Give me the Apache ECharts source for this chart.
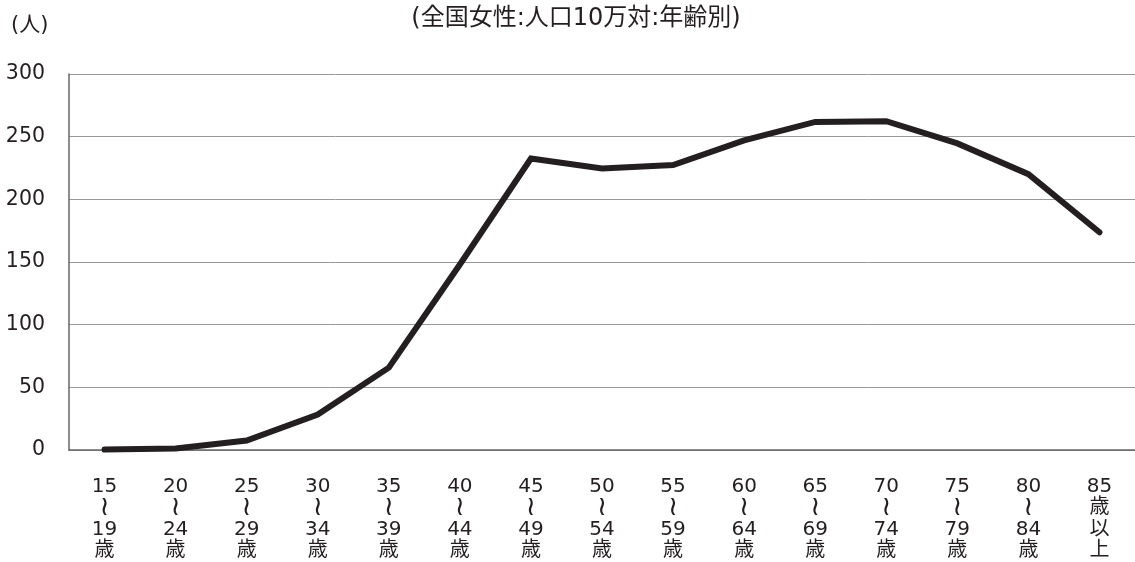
<!DOCTYPE html>
<html><head><meta charset="utf-8">
<script src="https://cdn.jsdelivr.net/npm/echarts@6/dist/echarts.min.js"></script>
<style>html,body{margin:0;padding:0;background:#fff}#c{width:1135px;height:562px}</style>
</head><body><div id="c"></div>
<script>
const categories = ['15\n≀\n19\n歳','20\n≀\n24\n歳','25\n≀\n29\n歳','30\n≀\n34\n歳','35\n≀\n39\n歳','40\n≀\n44\n歳','45\n≀\n49\n歳','50\n≀\n54\n歳','55\n≀\n59\n歳','60\n≀\n64\n歳','65\n≀\n69\n歳','70\n≀\n74\n歳','75\n≀\n79\n歳','80\n≀\n84\n歳','85\n歳\n以\n上'];
const values = [0.3, 1.2, 7.6, 28.3, 65.7, 148, 232.6, 224.7, 227.3, 247, 261.8, 262.3, 244.6, 220.1, 173.7];
const titleText = '(全国女性:人口10万対:年齢別)';
const unitText = '(人)';
const FONT = '"DejaVu Sans", "Noto Sans CJK JP", sans-serif';
const chart = echarts.init(document.getElementById('c'));
chart.setOption({
  animation: false,
  backgroundColor: '#fff',
  title: { text: titleText, left: 571, top: 2, textAlign: 'center',
    textStyle: { fontFamily: FONT, fontSize: 24, fontWeight: 'normal', color: '#231f20' } },
  graphic: [{ type: 'text', left: 11, top: 15, style: { text: unitText, font: '21px ' + FONT, fill: '#231f20' } }],
  grid: { left: 69, right: -11, top: 74, bottom: 111.5, containLabel: false },
  xAxis: { type: 'category', data: categories, boundaryGap: true,
    axisLine: { lineStyle: { color: '#666', width: 1.5 } }, axisTick: { show: false },
    axisLabel: { interval: 0, margin: 26, fontFamily: FONT, fontSize: 20, lineHeight: 21.5, color: '#231f20', align: 'center',
      formatter: v => v.split('\n').map(s => s === '≀' ? '{t|≀}' : '{n|' + s + '}').join('\n'),
      rich: { n: { fontFamily: FONT, fontSize: 20, lineHeight: 21.5, color: '#231f20' },
              t: { fontFamily: FONT, fontSize: 27, lineHeight: 21.5, color: '#231f20' } } } },
  yAxis: { type: 'value', min: 0, max: 300, interval: 50,
    axisLine: { show: true, lineStyle: { color: '#666', width: 1.5 } }, axisTick: { show: false },
    splitLine: { lineStyle: { color: '#999', width: 1 } },
    axisLabel: { margin: 24, fontFamily: FONT, fontSize: 20.5, color: '#231f20' } },
  series: [{ type: 'line', data: values, symbol: 'none', lineStyle: { color: '#231f20', width: 6, cap: 'round', join: 'miter' } }]
});
</script></body></html>
